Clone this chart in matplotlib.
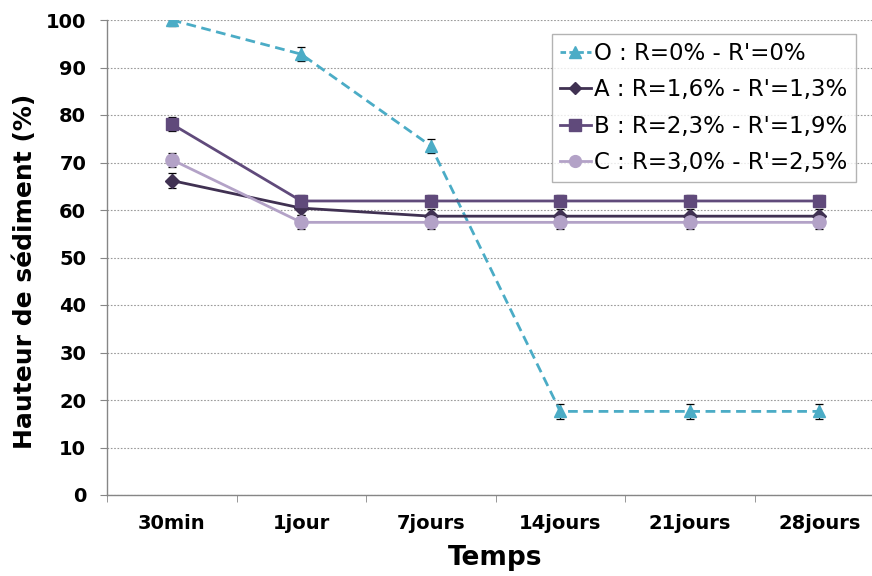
import numpy as np
import matplotlib
matplotlib.use('Agg')
import matplotlib.pyplot as plt
from matplotlib.lines import Line2D

categories = ['30min', '1jour', '7jours', '14jours', '21jours', '28jours']

o_values = [100.0, 92.8, 73.5, 17.6, 17.6, 17.6]
a_values = [66.2, 60.4, 58.7, 58.7, 58.7, 58.7]
b_values = [78.1, 61.9, 61.9, 61.9, 61.9, 61.9]
c_values = [70.6, 57.4, 57.4, 57.4, 57.4, 57.4]

o_err = [1.3, 1.5, 1.5, 1.5, 1.5, 1.5]
a_err = [1.5, 1.5, 1.5, 1.5, 1.5, 1.5]
b_err = [1.5, 1.2, 1.2, 1.2, 1.2, 1.2]
c_err = [1.5, 1.5, 1.5, 1.5, 1.5, 1.5]

labels = ["O : R=0% - R'=0%", "A : R=1,6% - R'=1,3%",
          "B : R=2,3% - R'=1,9%", "C : R=3,0% - R'=2,5%"]

col_o = '#4BACC6'
col_a = '#403152'
col_b = '#604A7B'
col_c = '#B3A2C7'

fig = plt.figure(figsize=(8.72, 5.76), dpi=100)
ax = fig.add_axes([107 / 872, 81 / 576, 777 / 872, 475 / 576])

x = np.arange(len(categories))

ax.grid(axis='y', color='#9A9A9A', linestyle=(0, (1.5, 1.5)), linewidth=0.8)
ax.set_axisbelow(True)

err_kw = dict(ecolor='black', elinewidth=0.9, capsize=3, capthick=0.9)

# O series first so the purple lines sit over it
ax.errorbar(x, o_values, yerr=o_err, color=col_o, marker='^', markersize=9,
            linewidth=2.0, linestyle=(0, (3.5, 2)), zorder=2.5, **err_kw)
ax.errorbar(x, a_values, yerr=a_err, color=col_a, marker='D', markersize=7.5,
            linewidth=2.0, zorder=3, **err_kw)
ax.errorbar(x, b_values, yerr=b_err, color=col_b, marker='s', markersize=9,
            linewidth=2.0, zorder=3, **err_kw)
ax.errorbar(x, c_values, yerr=c_err, color=col_c, marker='o', markersize=9.5,
            linewidth=2.0, zorder=3, **err_kw)

ax.set_xlim(-0.5, 5.5)
ax.set_ylim(0, 100)
ax.set_yticks(range(0, 101, 10))
ax.set_xticks(x)
ax.set_xticklabels(categories)
ax.set_xticks(np.arange(-0.5, 6, 1), minor=True)

for sp in ['top', 'right']:
    ax.spines[sp].set_visible(False)
for sp in ['left', 'bottom']:
    ax.spines[sp].set_color('#868686')
    ax.spines[sp].set_linewidth(1.0)

ax.tick_params(axis='y', length=5, color='#868686', labelsize=14, pad=10)
ax.tick_params(axis='x', which='major', length=0, labelsize=14, pad=14)
ax.tick_params(axis='x', which='minor', length=5, color='#868686')
for lab in ax.get_xticklabels() + ax.get_yticklabels():
    lab.set_fontweight('bold')

ax.set_ylabel('Hauteur de sédiment (%)', fontsize=18, fontweight='bold')
ax.yaxis.set_label_coords(-0.09, 0.47)
ax.set_xlabel('Temps', fontsize=19, fontweight='bold', labelpad=8)

handles = [
    Line2D([], [], color=col_o, linestyle=(0, (2, 1.2)), linewidth=2.0, marker='^', markersize=8),
    Line2D([], [], color=col_a, linewidth=2.0, marker='D', markersize=6.5),
    Line2D([], [], color=col_b, linewidth=2.0, marker='s', markersize=8.5),
    Line2D([], [], color=col_c, linewidth=2.0, marker='o', markersize=8.5),
]
leg = fig.legend(handles, labels, loc='upper left', bbox_to_anchor=(552 / 872, 1 - 34 / 576),
                 fontsize=16.5, frameon=True, fancybox=False, handlelength=1.35,
                 handletextpad=0.15, labelspacing=0.58, borderpad=0.35, borderaxespad=0)
leg.get_frame().set_edgecolor('#A0A0A0')
leg.get_frame().set_linewidth(1.0)

fig.savefig('out.png', dpi=100)
